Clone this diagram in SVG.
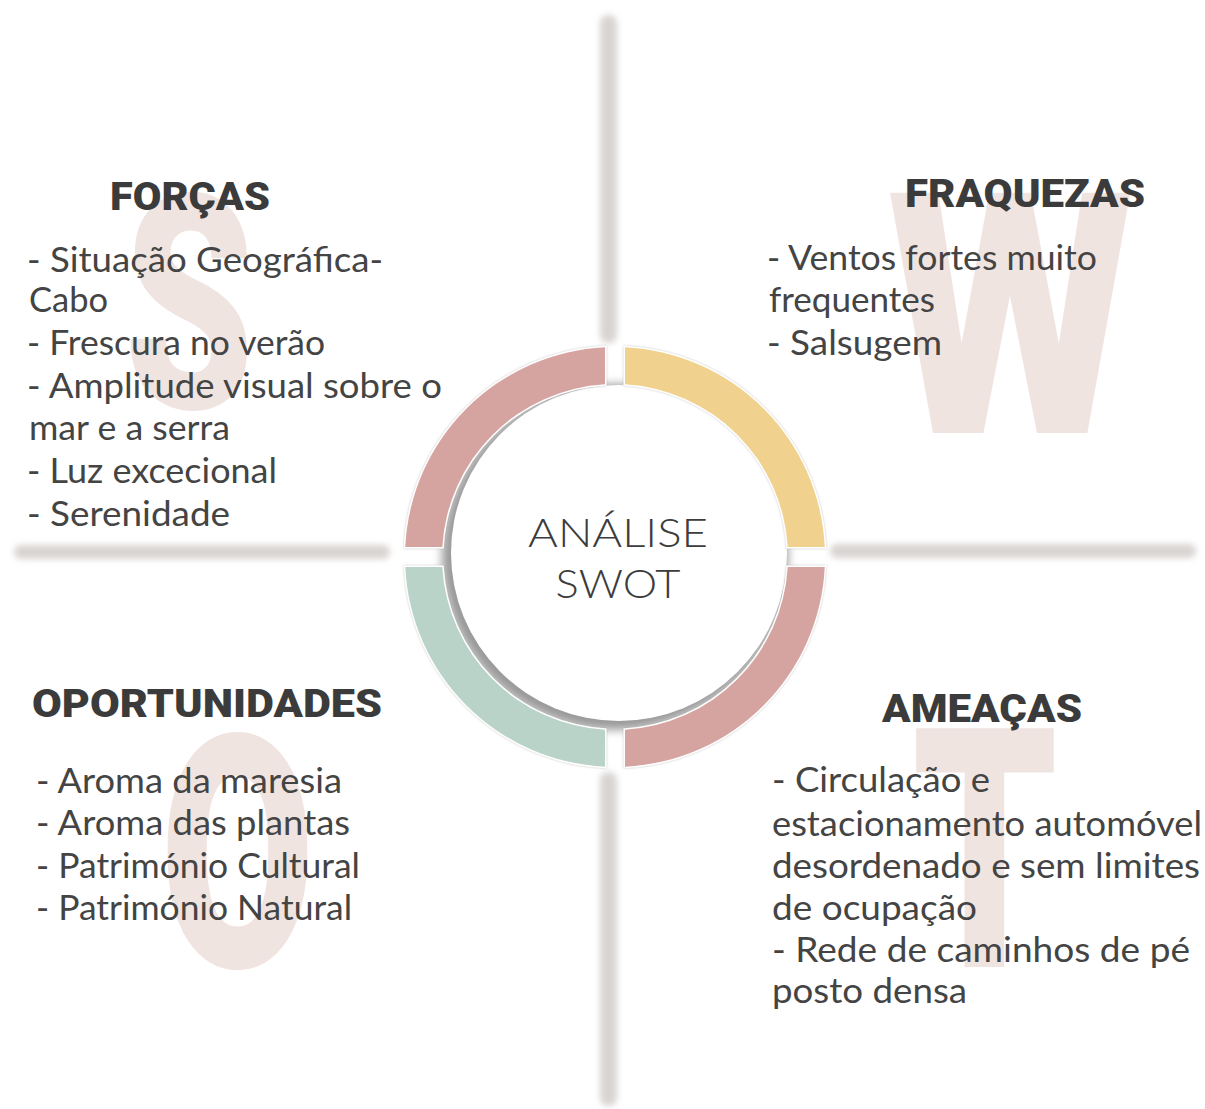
<svg xmlns="http://www.w3.org/2000/svg" width="1205" height="1109" viewBox="0 0 1205 1109">
<defs>
<filter id="blurh" x="-10%" y="-100%" width="120%" height="300%"><feGaussianBlur stdDeviation="3.2"/></filter>
<filter id="blurv" x="-100%" y="-10%" width="300%" height="120%"><feGaussianBlur stdDeviation="3.2"/></filter>
<filter id="soft" x="-10%" y="-10%" width="120%" height="120%"><feGaussianBlur stdDeviation="5"/></filter>
<filter id="segsh" x="-10%" y="-10%" width="120%" height="120%"><feDropShadow dx="0" dy="0" stdDeviation="1" flood-color="#9a9a9a" flood-opacity="0.6"/></filter>
<style>
.big{font-family:Roboto,"DejaVu Sans",sans-serif;font-weight:900;fill:#f0e4e1}
.title{font-family:Roboto,"Liberation Sans",sans-serif;font-weight:900;font-size:38px;fill:#3b3b3b}
.body{font-family:Lato,"Open Sans",sans-serif;font-size:34px;fill:#444444}
.center{font-family:Lato,"Open Sans",sans-serif;font-weight:300;font-size:40px;fill:#3c3c3c}
.seg{stroke:#ffffff;stroke-width:3;paint-order:stroke;filter:url(#segsh)}
.axis{fill:#d8d4d2}
</style>
</defs>
<rect width="1205" height="1109" fill="#ffffff"/>

<g id="axes">
<rect class="axis" x="14" y="545" width="376" height="14" rx="7" filter="url(#blurh)"/>
<rect class="axis" x="830" y="544" width="366" height="14" rx="7" filter="url(#blurh)"/>
<rect class="axis" x="600" y="15" width="17" height="328" rx="8" filter="url(#blurv)"/>
<rect class="axis" x="600" y="772" width="17" height="334" rx="8" filter="url(#blurv)"/>
</g>

<g id="letters">
<text class="big" x="124" y="408" font-size="300" textLength="130" lengthAdjust="spacingAndGlyphs">S</text>
<text class="big" x="887" y="433" font-size="338" textLength="247" lengthAdjust="spacingAndGlyphs">W</text>
<text class="big" x="160" y="967" font-size="326" textLength="155" lengthAdjust="spacingAndGlyphs">O</text>
<text class="big" x="912" y="967" font-size="336" textLength="146" lengthAdjust="spacingAndGlyphs">T</text>
</g>

<g id="forcas">
<text class="title" x="110" y="210" textLength="160" lengthAdjust="spacingAndGlyphs">FORÇAS</text>
<text class="body" x="27" y="272" textLength="356" lengthAdjust="spacingAndGlyphs">- Situação Geográfica-</text>
<text class="body" x="29" y="312" textLength="79" lengthAdjust="spacingAndGlyphs">Cabo</text>
<text class="body" x="27" y="355" textLength="298" lengthAdjust="spacingAndGlyphs">- Frescura no verão</text>
<text class="body" x="27" y="398" textLength="415" lengthAdjust="spacingAndGlyphs">- Amplitude visual sobre o</text>
<text class="body" x="29" y="440" textLength="201" lengthAdjust="spacingAndGlyphs">mar e a serra</text>
<text class="body" x="27" y="483" textLength="250" lengthAdjust="spacingAndGlyphs">- Luz excecional</text>
<text class="body" x="27" y="526" textLength="203" lengthAdjust="spacingAndGlyphs">- Serenidade</text>
</g>

<g id="fraquezas">
<text class="title" x="905" y="207" font-size="40" textLength="240" lengthAdjust="spacingAndGlyphs">FRAQUEZAS</text>
<text class="body" x="767" y="270" textLength="330" lengthAdjust="spacingAndGlyphs">- Ventos fortes muito</text>
<text class="body" x="769" y="312" textLength="166" lengthAdjust="spacingAndGlyphs">frequentes</text>
<text class="body" x="767" y="355" textLength="175" lengthAdjust="spacingAndGlyphs">- Salsugem</text>
</g>

<g id="oportunidades">
<text class="title" x="32" y="717" textLength="350" lengthAdjust="spacingAndGlyphs">OPORTUNIDADES</text>
<text class="body" x="36" y="793" textLength="306" lengthAdjust="spacingAndGlyphs">- Aroma da maresia</text>
<text class="body" x="36" y="835" textLength="314" lengthAdjust="spacingAndGlyphs">- Aroma das plantas</text>
<text class="body" x="36" y="878" textLength="324" lengthAdjust="spacingAndGlyphs">- Património Cultural</text>
<text class="body" x="36" y="920" textLength="316" lengthAdjust="spacingAndGlyphs">- Património Natural</text>
</g>

<g id="ameacas">
<text class="title" x="882" y="722" textLength="200" lengthAdjust="spacingAndGlyphs">AMEAÇAS</text>
<text class="body" x="772" y="792" textLength="218" lengthAdjust="spacingAndGlyphs">- Circulação e</text>
<text class="body" x="772" y="836" textLength="430" lengthAdjust="spacingAndGlyphs">estacionamento automóvel</text>
<text class="body" x="772" y="878" textLength="428" lengthAdjust="spacingAndGlyphs">desordenado e sem limites</text>
<text class="body" x="772" y="920" textLength="205" lengthAdjust="spacingAndGlyphs">de ocupação</text>
<text class="body" x="772" y="962" textLength="418" lengthAdjust="spacingAndGlyphs">- Rede de caminhos de pé</text>
<text class="body" x="772" y="1003" textLength="195" lengthAdjust="spacingAndGlyphs">posto densa</text>
</g>

<g id="swot-center">
<circle cx="615" cy="557" r="173" fill="#9a9a9a" filter="url(#soft)"/>
<circle cx="619" cy="553" r="168" fill="#ffffff"/>
<path class="seg" fill="#d5a4a0" d="M405.24 547 A210 210 0 0 1 605 347.24 L605 384.29 A173 173 0 0 0 442.29 547 Z"/>
<path class="seg" fill="#f0d18e" d="M625 347.24 A210 210 0 0 1 824.76 547 L787.71 547 A173 173 0 0 0 625 384.29 Z"/>
<path class="seg" fill="#d5a4a0" d="M824.76 567 A210 210 0 0 1 625 766.76 L625 729.71 A173 173 0 0 0 787.71 567 Z"/>
<path class="seg" fill="#bad3c9" d="M605 766.76 A210 210 0 0 1 405.24 567 L442.29 567 A173 173 0 0 0 605 729.71 Z"/>
<text class="center" x="618" y="547" text-anchor="middle" textLength="180" lengthAdjust="spacingAndGlyphs">ANÁLISE</text>
<text class="center" x="618" y="598" text-anchor="middle" textLength="125" lengthAdjust="spacingAndGlyphs">SWOT</text>
</g>
</svg>
